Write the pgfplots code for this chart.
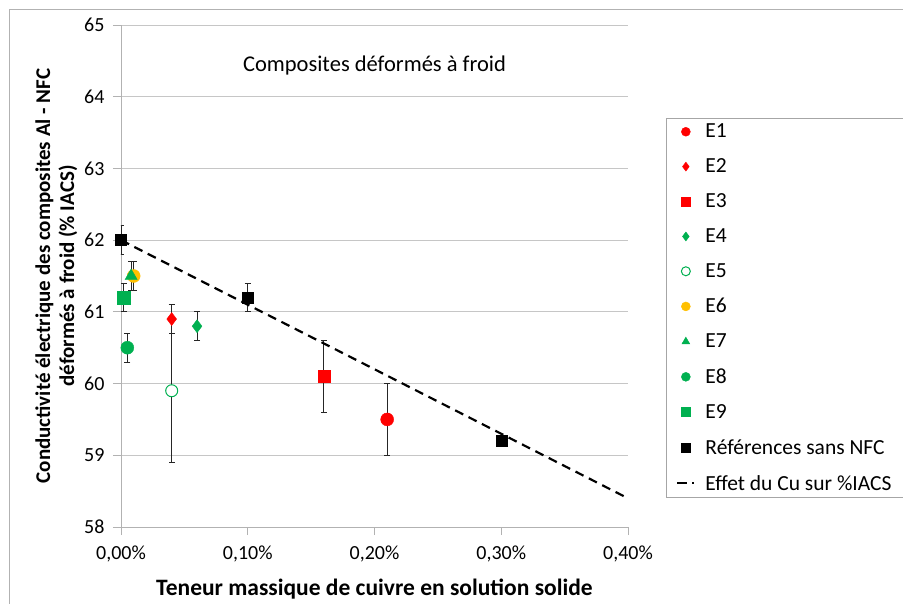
\documentclass[border=0pt]{standalone}
\usepackage{pgfplots}
\pgfplotsset{compat=1.18}
\usepackage{fontspec}
\setmainfont{Carlito}
\definecolor{xgreen}{RGB}{0,176,80}
\definecolor{xyellow}{RGB}{255,192,0}
\begin{document}
\begin{tikzpicture}[x=1pt,y=1pt]
\draw[gray!60, line width=1pt] (9,-5) -- (9,593) -- (910,593);
\begin{axis}[
  at={(121pt,76pt)}, anchor=south west,
  scale only axis, width=507pt, height=502pt,
  xmin=0, xmax=0.4, ymin=58, ymax=65,
  axis x line*=bottom, axis y line*=left,
  axis line style={gray!60, line width=0.8pt},
  xtick={0,0.1,0.2,0.3,0.4},
  xticklabels={{0,00\%},{0,10\%},{0,20\%},{0,30\%},{0,40\%}},
  ytick={58,59,...,65},
  /pgf/number format/assume math mode=true,
  tick label style={font=\fontsize{20}{24}\selectfont},
  yticklabel shift=5pt,
  xticklabel style={yshift=-7pt},
  tick align=outside, major tick length=8pt,
  tick style={gray!60, line width=0.8pt},
  ymajorgrids, grid style={gray!45, line width=0.9pt},
  xlabel={Teneur massique de cuivre en solution solide},
  ylabel={Conductivité électrique des composites Al - NFC\\déformés à froid (\% IACS)},
  xlabel style={font=\bfseries\fontsize{23.5}{26}\selectfont, yshift=-10pt},
  ylabel style={font=\bfseries\fontsize{21}{24}\selectfont, align=center, yshift=0pt},
  legend style={at={(1.075,0.815)}, anchor=north west, draw=gray!70,
    font=\fontsize{21.5}{24}\selectfont, row sep=15.5pt, column sep=8pt, inner xsep=10pt, inner ysep=4pt, cells={anchor=west}},
  legend image post style={mark size=4.5pt},
  error bars/error bar style={black!85, line width=0.9pt},
  error bars/error mark options={rotate=90, mark size=3pt, black!85, line width=0.9pt},
]
\addplot[only marks, mark=*, red, mark size=6.5pt, error bars/.cd, y dir=both, y explicit] coordinates {(0.21,59.5) +- (0,0.5)};
\addlegendentry{E1}
\addplot[only marks, mark=diamond*, red, mark size=6.5pt, error bars/.cd, y dir=both, y explicit] coordinates {(0.04,60.9) +- (0,0.2)};
\addlegendentry{E2}
\addplot[only marks, mark=square*, red, mark size=6pt, error bars/.cd, y dir=both, y explicit] coordinates {(0.16,60.1) +- (0,0.5)};
\addlegendentry{E3}
\addplot[only marks, mark=diamond*, xgreen, mark size=6.5pt, error bars/.cd, y dir=both, y explicit] coordinates {(0.06,60.8) +- (0,0.2)};
\addlegendentry{E4}
\addplot[only marks, mark=*, xgreen, mark options={fill=white, line width=1pt}, mark size=6pt, error bars/.cd, y dir=both, y explicit] coordinates {(0.04,59.9) +- (0,1.0)};
\addlegendentry{E5}
\addplot[only marks, mark=*, xyellow, mark size=6.5pt, error bars/.cd, y dir=both, y explicit] coordinates {(0.01,61.5) +- (0,0.2)};
\addlegendentry{E6}
\addplot[only marks, mark=triangle*, xgreen, mark size=7pt, error bars/.cd, y dir=both, y explicit] coordinates {(0.008,61.5) +- (0,0.2)};
\addlegendentry{E7}
\addplot[only marks, mark=*, xgreen, mark size=6.5pt, error bars/.cd, y dir=both, y explicit] coordinates {(0.005,60.5) +- (0,0.2)};
\addlegendentry{E8}
\addplot[only marks, mark=square*, xgreen, mark size=6.5pt, error bars/.cd, y dir=both, y explicit] coordinates {(0.002,61.2) +- (0,0.2)};
\addlegendentry{E9}
\addplot[only marks, mark=square*, black, mark size=5.5pt, error bars/.cd, y dir=both, y explicit] coordinates {(0,62) +- (0,0.2) (0.1,61.2) +- (0,0.2) (0.3,59.2) +- (0,0)};
\addlegendentry{Références sans NFC}
\addplot[black, line width=2.2pt, dash pattern=on 9pt off 6pt] coordinates {(0,62) (0.4,58.4)};
\addlegendentry{Effet du Cu sur \%IACS}
\node[font=\fontsize{22.5}{26}\selectfont] at (axis cs:0.2,64.44) {Composites déformés à froid};
\end{axis}
\pgfresetboundingbox
\path (0,0) rectangle (903,603);
\end{tikzpicture}
\end{document}
